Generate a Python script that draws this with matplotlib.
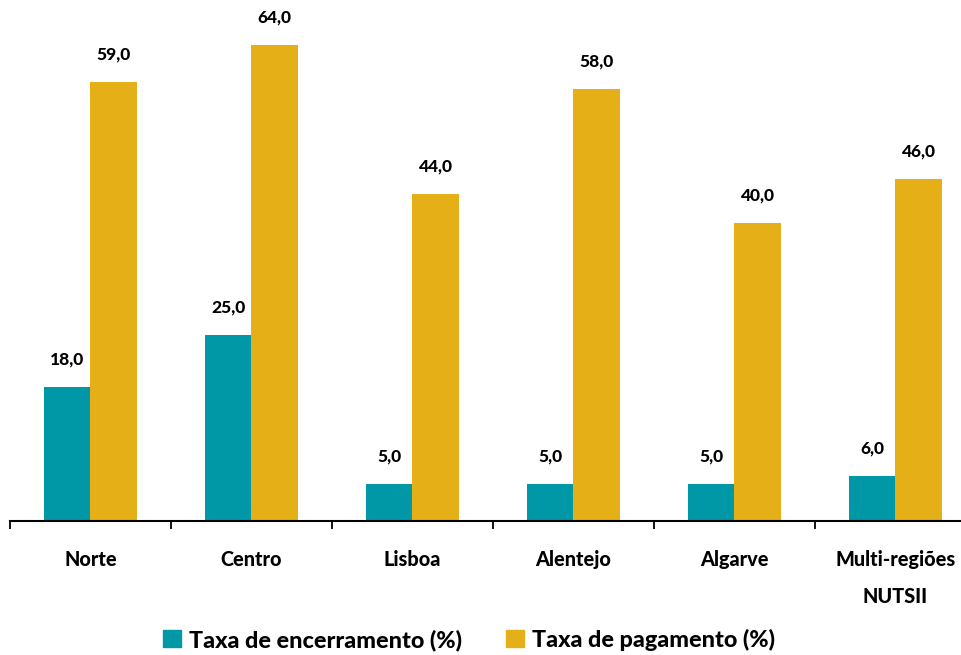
import matplotlib
matplotlib.use("Agg")
import matplotlib.pyplot as plt
import numpy as np
from matplotlib.patches import Patch

categories = ["Norte", "Centro", "Lisboa", "Alentejo", "Algarve", "Multi-regiões\nNUTSII"]
encerramento = [18.0, 25.0, 5.0, 5.0, 5.0, 6.0]
pagamento = [59.0, 64.0, 44.0, 58.0, 40.0, 46.0]
series_names = ["Taxa de encerramento (%)", "Taxa de pagamento (%)"]
colors = ["#0097A7", "#E5AF17"]

plt.rcParams['font.family'] = ['Lato', 'DejaVu Sans']
W = "black"

fig = plt.figure(figsize=(9.62, 6.55), dpi=100)
ax = fig.add_axes([10/962, 134/655, 6*161/962, 521/655])

x = np.arange(len(categories))
w = 0.286
b1 = ax.bar(x - w/2, encerramento, w, color=colors[0])
b2 = ax.bar(x + w/2, pagamento, w, color=colors[1])

for bars, vals in ((b1, encerramento), (b2, pagamento)):
    for rect, v in zip(bars, vals):
        ax.annotate(f"{v:.1f}".replace(".", ","),
                    (rect.get_x() + rect.get_width()/2, v),
                    xytext=(0, 14), textcoords="offset points",
                    ha="center", va="bottom", fontsize=12.5, fontweight=W)

ax.set_xlim(-0.5, len(categories) - 0.5)
ax.set_ylim(0, 70)
for s in ("top", "right", "left"):
    ax.spines[s].set_visible(False)
ax.spines["bottom"].set_linewidth(1.5)
ax.set_yticks([])
ax.set_xticks(x)
ax.set_xticklabels(categories, fontsize=14.3, fontweight=W, linespacing=2.1)
ax.tick_params(axis="x", which="major", length=0, pad=21)
ax.set_xticks(np.arange(-0.5, len(categories), 1.0), minor=True)
ax.tick_params(axis="x", which="minor", length=6, width=1.3, direction="out")

handles = [Patch(color=c, label=n) for c, n in zip(colors, series_names)]
fig.legend(handles=handles, loc="center", bbox_to_anchor=(469/962, 1 - 640/655),
           ncol=2, frameon=False, handlelength=0.75, handleheight=0.75,
           handletextpad=0.35, columnspacing=1.9, prop={'weight': W, 'size': 16.8})

fig.savefig("out.png", dpi=100)
